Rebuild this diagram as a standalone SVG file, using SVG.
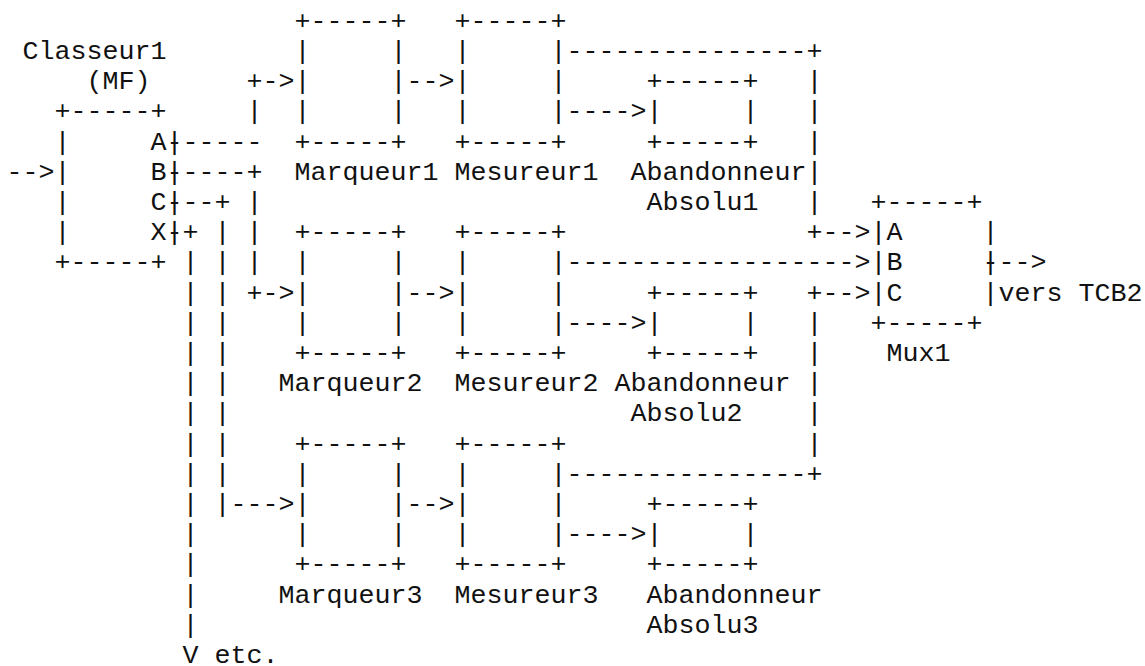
<svg xmlns="http://www.w3.org/2000/svg" width="1145" height="666" viewBox="0 0 1145 666" xml:space="preserve">
<style>
text{font-family:"Liberation Mono","Courier New",monospace;font-size:26.67px;fill:#111;white-space:pre}
</style>
<rect width="1145" height="666" fill="#fff"/>
<g id="classeur1">
<text x="22.5" y="59">Classeur1</text>
<text x="86.5" y="89.2">(MF)</text>
<text x="54.5" y="119.4">+-----+</text>
<text x="54.5" y="149.6">|     A|</text>
<text x="54.5" y="179.8">|     B|</text>
<text x="54.5" y="210">|     C|</text>
<text x="54.5" y="240.2">|     X|</text>
<text x="54.5" y="270.4">+-----+</text>
</g>
<g id="marqueur1">
<text x="294.5" y="28.8">+-----+</text>
<text x="294.5" y="59">|     |</text>
<text x="294.5" y="89.2">|     |</text>
<text x="294.5" y="119.4">|     |</text>
<text x="294.5" y="149.6">+-----+</text>
<text x="294.5" y="179.8">Marqueur1</text>
</g>
<g id="mesureur1">
<text x="454.5" y="28.8">+-----+</text>
<text x="454.5" y="59">|     |</text>
<text x="454.5" y="89.2">|     |</text>
<text x="454.5" y="119.4">|     |</text>
<text x="454.5" y="149.6">+-----+</text>
<text x="454.5" y="179.8">Mesureur1</text>
</g>
<g id="abandonneur1">
<text x="646.5" y="89.2">+-----+</text>
<text x="646.5" y="119.4">|     |</text>
<text x="646.5" y="149.6">+-----+</text>
<text x="630.5" y="179.8">Abandonneur</text>
<text x="646.5" y="210">Absolu1</text>
</g>
<g id="marqueur2">
<text x="294.5" y="240.2">+-----+</text>
<text x="294.5" y="270.4">|     |</text>
<text x="294.5" y="300.6">|     |</text>
<text x="294.5" y="330.8">|     |</text>
<text x="294.5" y="361">+-----+</text>
<text x="278.5" y="391.2">Marqueur2</text>
</g>
<g id="mesureur2">
<text x="454.5" y="240.2">+-----+</text>
<text x="454.5" y="270.4">|     |</text>
<text x="454.5" y="300.6">|     |</text>
<text x="454.5" y="330.8">|     |</text>
<text x="454.5" y="361">+-----+</text>
<text x="454.5" y="391.2">Mesureur2</text>
</g>
<g id="abandonneur2">
<text x="646.5" y="300.6">+-----+</text>
<text x="646.5" y="330.8">|     |</text>
<text x="646.5" y="361">+-----+</text>
<text x="614.5" y="391.2">Abandonneur</text>
<text x="630.5" y="421.4">Absolu2</text>
</g>
<g id="marqueur3">
<text x="294.5" y="451.6">+-----+</text>
<text x="294.5" y="481.8">|     |</text>
<text x="294.5" y="512">|     |</text>
<text x="294.5" y="542.2">|     |</text>
<text x="294.5" y="572.4">+-----+</text>
<text x="278.5" y="602.6">Marqueur3</text>
</g>
<g id="mesureur3">
<text x="454.5" y="451.6">+-----+</text>
<text x="454.5" y="481.8">|     |</text>
<text x="454.5" y="512">|     |</text>
<text x="454.5" y="542.2">|     |</text>
<text x="454.5" y="572.4">+-----+</text>
<text x="454.5" y="602.6">Mesureur3</text>
</g>
<g id="abandonneur3">
<text x="646.5" y="512">+-----+</text>
<text x="646.5" y="542.2">|     |</text>
<text x="646.5" y="572.4">+-----+</text>
<text x="646.5" y="602.6">Abandonneur</text>
<text x="646.5" y="632.8">Absolu3</text>
</g>
<g id="mux1">
<text x="870.5" y="210">+-----+</text>
<text x="870.5" y="240.2">|A     |</text>
<text x="870.5" y="270.4">|B     |</text>
<text x="870.5" y="300.6">|C     |</text>
<text x="870.5" y="330.8">+-----+</text>
<text x="886.5" y="361">Mux1</text>
</g>
<g id="connectors">
<text x="6.5" y="179.8">--&gt;</text>
<text x="166.5" y="149.6">------</text>
<text x="246.5" y="119.4">|</text>
<text x="246.5" y="89.2">+-&gt;</text>
<text x="166.5" y="179.8">-----+</text>
<text x="246.5" y="210">|</text>
<text x="246.5" y="240.2">|</text>
<text x="246.5" y="270.4">|</text>
<text x="246.5" y="300.6">+-&gt;</text>
<text x="166.5" y="210">---+</text>
<text x="214.5" y="240.2">|</text>
<text x="214.5" y="270.4">|</text>
<text x="214.5" y="300.6">|</text>
<text x="214.5" y="330.8">|</text>
<text x="214.5" y="361">|</text>
<text x="214.5" y="391.2">|</text>
<text x="214.5" y="421.4">|</text>
<text x="214.5" y="451.6">|</text>
<text x="214.5" y="481.8">|</text>
<text x="214.5" y="512">|---&gt;</text>
<text x="166.5" y="240.2">-+</text>
<text x="182.5" y="270.4">|</text>
<text x="182.5" y="300.6">|</text>
<text x="182.5" y="330.8">|</text>
<text x="182.5" y="361">|</text>
<text x="182.5" y="391.2">|</text>
<text x="182.5" y="421.4">|</text>
<text x="182.5" y="451.6">|</text>
<text x="182.5" y="481.8">|</text>
<text x="182.5" y="512">|</text>
<text x="182.5" y="542.2">|</text>
<text x="182.5" y="572.4">|</text>
<text x="182.5" y="602.6">|</text>
<text x="182.5" y="632.8">|</text>
<text x="182.5" y="663">V etc.</text>
<text x="406.5" y="89.2">--&gt;</text>
<text x="406.5" y="300.6">--&gt;</text>
<text x="406.5" y="512">--&gt;</text>
<text x="566.5" y="119.4">----&gt;</text>
<text x="566.5" y="330.8">----&gt;</text>
<text x="566.5" y="542.2">----&gt;</text>
<text x="566.5" y="59">---------------+</text>
<text x="806.5" y="89.2">|</text>
<text x="806.5" y="119.4">|</text>
<text x="806.5" y="149.6">|</text>
<text x="806.5" y="179.8">|</text>
<text x="806.5" y="210">|</text>
<text x="806.5" y="240.2">+--&gt;</text>
<text x="566.5" y="270.4">------------------&gt;</text>
<text x="566.5" y="481.8">---------------+</text>
<text x="806.5" y="451.6">|</text>
<text x="806.5" y="421.4">|</text>
<text x="806.5" y="391.2">|</text>
<text x="806.5" y="361">|</text>
<text x="806.5" y="330.8">|</text>
<text x="806.5" y="300.6">+--&gt;</text>
<text x="982.5" y="270.4">---&gt;</text>
<text x="998.5" y="300.6">vers TCB2</text>
</g>
</svg>
